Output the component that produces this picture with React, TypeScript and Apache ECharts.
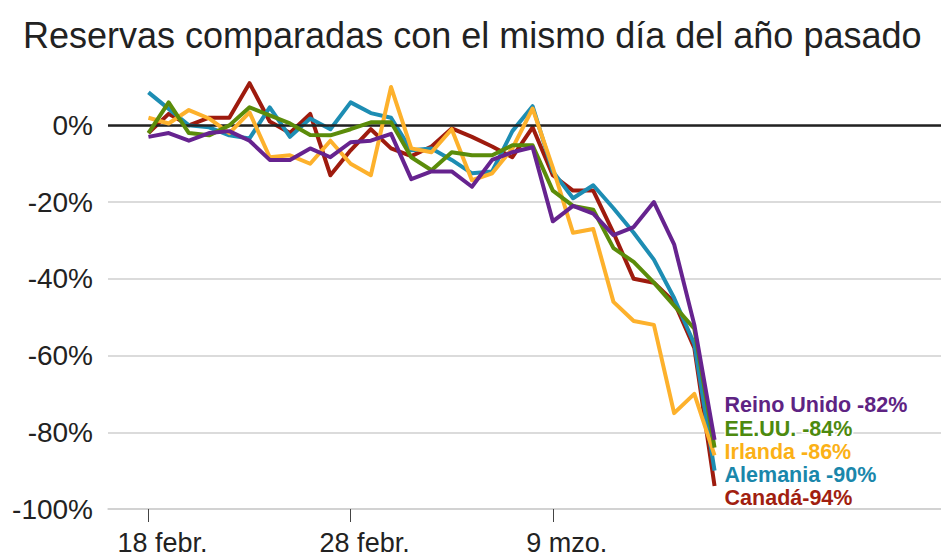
import React, { useEffect, useRef } from "react";
import * as echarts from "echarts";

const titleText = "Reservas comparadas con el mismo día del año pasado";
const tickValues = [0, 10, 20];
const tickLabels = ["18 febr.", "28 febr.", "9 mzo."];
const yTicks = [-100, -80, -60, -40, -20, 0];

const seriesNames = ["Canadá", "Alemania", "Irlanda", "EE.UU.", "Reino Unido"];
const endLabels = ["Canadá-94%", "Alemania -90%", "Irlanda -86%", "EE.UU. -84%", "Reino Unido -82%"];
const lineColors = ["#9e1b0e", "#1d8db3", "#fdb12c", "#5b8c0a", "#66238f"];
const labelColors = ["#a11f10", "#1a87ab", "#fbb117", "#4d8a0f", "#5e2383"];
const labelOffsets = [[10, 12], [10, 4.4], [10, -3.3], [10, -18.6], [10, -35]];

const canada = [-2, 3, 0, 2, 2, 11, 1, -2, 3, -13, -6.5, -1, -6, -8, -5.5, -0.8, -3, -5.5, -8.3, -0.5, -13, -17, -17, -28, -40, -41, -46, -58, -94];
const alemania = [8.6, 4.3, 0, -0.5, -2.6, -3.4, 4.7, -3, 1.8, -1, 6, 3.2, 2, -6.5, -6, -9, -12.5, -12, -1.5, 5, -12, -19, -15.6, -21.6, -28, -35, -45, -57, -90];
const irlanda = [2, 0.5, 4, 1.8, -2, 3.4, -8.3, -7.8, -10, -4, -10, -13, 10, -6, -7, -1, -14.3, -12.5, -6, 4.4, -11, -28, -27, -46, -51, -52, -75, -70, -86];
const eeuu = [-2, 6, -2, -2.6, 0, 4.7, 2.6, 0.5, -2.5, -2.6, -1, 0.8, 0.8, -8.3, -11.7, -7, -7.8, -7.8, -5.2, -5.2, -17, -21, -22, -32, -35.6, -41, -47, -53, -84];
const reinoUnido = [-3, -2, -4, -2, -1.5, -4, -9, -9, -6, -8.3, -4.4, -4, -2.2, -14, -12, -12, -16, -9, -7, -5.7, -25, -21, -23, -28.6, -26.5, -20, -31, -52, -82];

const seriesValues = [canada, alemania, irlanda, eeuu, reinoUnido];

const FONT = "'Liberation Sans', Arial, Helvetica, sans-serif";

export default function App() {
  const ref = useRef<HTMLDivElement>(null);
  useEffect(() => {
    if (!ref.current) return;
    const chart = echarts.init(ref.current, null, { renderer: "svg" });
    const series: any[] = seriesValues.map((vals, i) => ({
      name: seriesNames[i],
      type: "line",
      data: vals.map((v, d) => [d, v]),
      showSymbol: false,
      symbol: "none",
      z: 3 + i,
      lineStyle: { color: lineColors[i], width: 4, join: "round" },
      endLabel: {
        show: true,
        formatter: () => endLabels[i],
        color: labelColors[i],
        fontFamily: FONT,
        fontWeight: "bold",
        fontSize: 21.5,
        lineHeight: 20,
        distance: 0,
        offset: labelOffsets[i],
        textBorderColor: "#fff",
        textBorderWidth: 3,
      },
    }));
    series.unshift({
      type: "line",
      data: [],
      z: 2,
      markLine: {
        silent: true,
        symbol: ["none", "none"],
        label: { show: false },
        lineStyle: { color: "#222", width: 2.5, type: "solid" },
        data: [{ yAxis: 0 }],
      },
    });
    chart.setOption({
      animation: false,
      backgroundColor: "#fff",
      title: {
        text: titleText,
        left: 18,
        top: 12,
        textStyle: { fontFamily: FONT, fontSize: 36, fontWeight: "normal", color: "#222" },
      },
      grid: { left: 108, right: 0, top: 64, bottom: 48 },
      xAxis: {
        type: "value",
        min: -2,
        max: 39.2,
        splitLine: { show: false },
        axisLine: { show: true, onZero: false, lineStyle: { color: "#cfcfcf", width: 1.5 } },
        axisTick: { show: true, customValues: tickValues, length: 13, lineStyle: { color: "#444", width: 1 } },
        axisLabel: {
          customValues: tickValues,
          formatter: (v: number) => {
            const k = tickValues.indexOf(Math.round(v));
            return k >= 0 ? tickLabels[k] : "";
          },
          fontFamily: FONT,
          fontSize: 27,
          color: "#222",
          margin: 20,
          padding: [0, 0, 0, 28],
        },
      },
      yAxis: {
        type: "value",
        min: -100,
        max: 16,
        interval: 20,
        axisLine: { show: false },
        axisTick: { show: false },
        splitLine: {
          show: true,
          showMaxLine: false,
          lineStyle: { color: ["#cfcfcf", "#cfcfcf", "#cfcfcf", "#cfcfcf", "#cfcfcf", "#cfcfcf", "rgba(0,0,0,0)"], width: 1.5 },
        },
        axisLabel: {
          formatter: (v: number) => (yTicks.indexOf(v) >= 0 ? v + "%" : ""),
          fontFamily: FONT,
          fontSize: 28,
          color: "#222",
          margin: 15,
          showMaxLabel: false,
        },
      },
      series,
    });
    return () => chart.dispose();
  }, []);
  return <div ref={ref} style={{ position: "fixed", left: 0, top: 0, width: 941, height: 557 }} />;
}
